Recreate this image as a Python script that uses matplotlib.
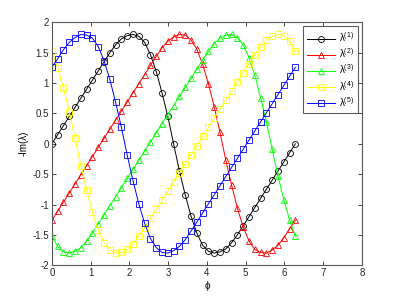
import numpy as np
import matplotlib
matplotlib.use('Agg')
import matplotlib.pyplot as plt

plt.rcParams['font.family'] = ['Liberation Sans', 'DejaVu Sans']
plt.rcParams['mathtext.fontset'] = 'custom'
plt.rcParams['mathtext.rm'] = 'Liberation Sans'

# sample grid, 43 points over one period
phi = np.linspace(0, 2 * np.pi, 43)

# -Im(lambda), one list per eigenvalue branch
lam1 = [0.00, 0.15, 0.30, 0.45, 0.60, 0.75, 0.90, 1.05, 1.20, 1.35, 1.50, 1.63, 1.73, 1.78, 1.80,
        1.77, 1.67, 1.47, 1.19, 0.84, 0.45, 0.00, -0.45, -0.84, -1.19, -1.47, -1.67, -1.77, -1.80,
        -1.78, -1.73, -1.63, -1.50, -1.35, -1.20, -1.05, -0.90, -0.75, -0.60, -0.45, -0.30, -0.15, 0.00]
lam2 = [-1.26, -1.11, -0.96, -0.81, -0.66, -0.51, -0.36, -0.21, -0.06, 0.09, 0.24, 0.39, 0.54, 0.69,
        0.84, 0.99, 1.14, 1.29, 1.44, 1.58, 1.69, 1.76, 1.80, 1.79, 1.71, 1.56, 1.31, 0.99, 0.61, 0.19,
        -0.27, -0.68, -1.06, -1.37, -1.60, -1.74, -1.79, -1.80, -1.75, -1.67, -1.55, -1.40, -1.26]
lam3 = [-1.52, -1.69, -1.78, -1.80, -1.77, -1.71, -1.60, -1.47, -1.32, -1.17, -1.02, -0.87, -0.72,
        -0.57, -0.42, -0.27, -0.12, 0.03, 0.18, 0.33, 0.48, 0.63, 0.78, 0.93, 1.08, 1.23, 1.38, 1.52,
        1.65, 1.74, 1.79, 1.80, 1.75, 1.63, 1.42, 1.13, 0.76, 0.36, -0.09, -0.53, -0.92, -1.25, -1.52]
lam4 = [1.52, 1.25, 0.92, 0.53, 0.09, -0.36, -0.76, -1.13, -1.42, -1.63, -1.75, -1.80, -1.79, -1.74,
        -1.65, -1.52, -1.38, -1.23, -1.08, -0.93, -0.78, -0.63, -0.48, -0.33, -0.18, -0.03, 0.12, 0.27,
        0.42, 0.57, 0.72, 0.87, 1.02, 1.17, 1.32, 1.47, 1.60, 1.71, 1.77, 1.80, 1.78, 1.69, 1.52]
lam5 = [1.26, 1.40, 1.55, 1.67, 1.75, 1.80, 1.79, 1.74, 1.60, 1.37, 1.06, 0.68, 0.27, -0.19, -0.61,
        -0.99, -1.31, -1.56, -1.71, -1.79, -1.80, -1.76, -1.69, -1.58, -1.44, -1.29, -1.14, -0.99,
        -0.84, -0.69, -0.54, -0.39, -0.24, -0.09, 0.06, 0.21, 0.36, 0.51, 0.66, 0.81, 0.96, 1.11, 1.26]

series = [lam1, lam2, lam3, lam4, lam5]
styles = [('k', 'o'), ('r', '^'), ('#00ff00', '^'), ('#ffff00', 's'), ('b', 's')]
labels = ['λ$^{(%d)}$' % (k + 1) for k in range(5)]
yticks = [-2, -1.5, -1, -0.5, 0, 0.5, 1, 1.5, 2]

fig = plt.figure(figsize=(3.99, 2.98), dpi=100)
ax = fig.add_axes([0.13, 0.11, 0.777, 0.815])

for ys, (c, m), lab in zip(series, styles, labels):
    ax.plot(phi, ys, color=c, marker=m, markersize=4.3, markerfacecolor='none',
            markeredgewidth=0.6, linewidth=0.7, label=lab)

ax.set_xlim(0, 8)
ax.set_ylim(-2, 2)
ax.set_xticks(range(0, 9))
ax.set_yticks(yticks)
ax.set_yticklabels([('%g' % v) for v in yticks])
ax.tick_params(direction='in', top=True, right=True, length=3, width=0.6,
               labelsize=7, colors='0.15', pad=2)
for s in ax.spines.values():
    s.set_color('0.35')
    s.set_linewidth(0.8)

ax.set_xlabel('ϕ', fontsize=7, labelpad=2)
ax.set_ylabel('-Im(λ)', fontsize=7, labelpad=3)

leg = ax.legend(loc='upper right', fontsize=7, frameon=True, fancybox=False,
                handlelength=2.9, labelspacing=0.25, borderpad=0.4,
                handletextpad=0.4, borderaxespad=0.4)
leg.get_frame().set_edgecolor('0.2')
leg.get_frame().set_linewidth(0.8)

fig.savefig('out.png', dpi=100)
